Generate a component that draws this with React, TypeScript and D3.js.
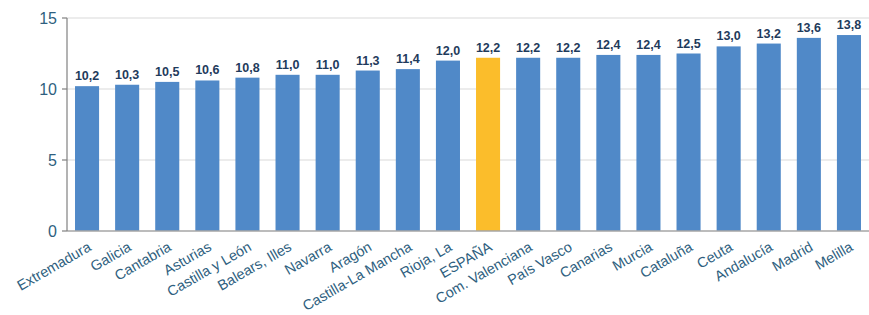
import React from "react";
import * as d3 from "d3";

const regions = [
  "Extremadura", "Galicia", "Cantabria", "Asturias", "Castilla y León",
  "Balears, Illes", "Navarra", "Aragón", "Castilla-La Mancha", "Rioja, La",
  "ESPAÑA", "Com. Valenciana", "País Vasco", "Canarias", "Murcia",
  "Cataluña", "Ceuta", "Andalucía", "Madrid", "Melilla",
];
const values = [
  10.2, 10.3, 10.5, 10.6, 10.8, 11.0, 11.0, 11.3, 11.4, 12.0,
  12.2, 12.2, 12.2, 12.4, 12.4, 12.5, 13.0, 13.2, 13.6, 13.8,
];
const yTicks = [0, 5, 10, 15];
const highlight = "ESPAÑA";

const W = 869;
const H = 315;
const margin = { top: 18, right: 0, bottom: 84, left: 67 };

const fmt = (v: number) => v.toFixed(1).replace(".", ",");

export default function App() {
  const x = d3.scaleBand<string>()
    .domain(regions)
    .range([margin.left, W - margin.right])
    .paddingInner(0.4)
    .paddingOuter(0.2);
  const y = d3.scaleLinear().domain([0, 15]).range([H - margin.bottom, margin.top]);
  const font = "'Liberation Sans', Arial, sans-serif";

  return (
    <svg width={W} height={H} style={{ position: "absolute", left: 0, top: 0 }} fontFamily={font}>
      {/* grid */}
      {yTicks.filter(t => t > 0).map(t => (
        <line key={t} x1={margin.left} x2={W} y1={y(t)} y2={y(t)} stroke="#d9d9d9" strokeWidth={1} />
      ))}
      {/* bars */}
      {regions.map((r, i) => (
        <rect key={r} x={x(r)} y={y(values[i])} width={x.bandwidth()} height={y(0) - y(values[i])}
          fill={r === highlight ? "#fbbd2b" : "#5089c8"} />
      ))}
      {/* value labels */}
      {regions.map((r, i) => (
        <text key={r} x={x(r)! + x.bandwidth() / 2} y={y(values[i]) - 6} textAnchor="middle"
          fontSize={12.5} fontWeight="bold" fill="#1f3b5c">{fmt(values[i])}</text>
      ))}
      {/* axes */}
      <line x1={margin.left} x2={W} y1={y(0)} y2={y(0)} stroke="#a6a6a6" strokeWidth={1.5} />
      <line x1={margin.left} x2={margin.left} y1={y(15)} y2={y(0)} stroke="#808080" strokeWidth={1.2} />
      {yTicks.map(t => (
        <g key={t}>
          <line x1={margin.left - 5} x2={margin.left} y1={y(t)} y2={y(t)} stroke="#808080" strokeWidth={1.2} />
          <text x={margin.left - 10} y={y(t)} dy="0.35em" textAnchor="end" fontSize={16} fill="#2f5f80">{t}</text>
        </g>
      ))}
      {/* category labels */}
      {regions.map(r => {
        const cx = x(r)! + x.bandwidth() / 2;
        const cy = y(0) + 10;
        return (
          <text key={r} x={cx} y={cy} transform={`rotate(-30 ${cx} ${cy})`} textAnchor="end"
            dy="0.7em" fontSize={14.4} fill="#2f5f80">{r}</text>
        );
      })}
    </svg>
  );
}
